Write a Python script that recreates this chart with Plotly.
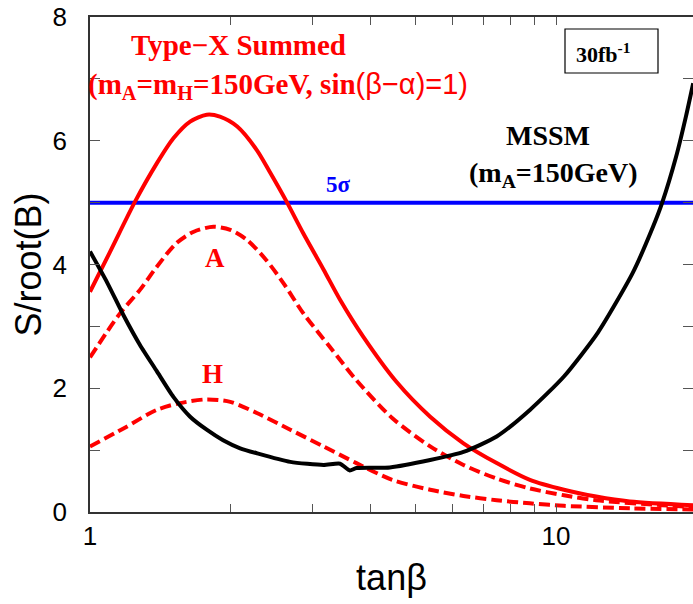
import plotly.graph_objects as go

# ---------------- data ----------------
tb_sum = [1.0, 1.10, 1.25, 1.39, 1.51, 1.64, 1.78, 1.90, 2.07, 2.28, 2.43, 2.64, 2.87, 3.17,
          3.44, 3.86, 4.55, 5.37, 6.33, 7.46, 8.79, 10.4, 12.2, 14.4, 19.7]
s_sum = [3.56, 4.18, 5.02, 5.63, 6.04, 6.31, 6.42, 6.39, 6.23, 5.85, 5.50, 5.02, 4.50, 3.92,
         3.43, 2.83, 2.10, 1.54, 1.11, 0.79, 0.52, 0.36, 0.25, 0.17, 0.11]

tb_A = [1.0, 1.16, 1.28, 1.39, 1.53, 1.67, 1.84, 2.0, 2.17, 2.39, 2.60, 2.87, 3.27, 3.73,
        4.45, 5.37, 6.33, 7.46, 8.79, 10.4, 12.2, 16.9, 19.7]
s_A = [2.50, 3.21, 3.59, 3.96, 4.34, 4.53, 4.61, 4.56, 4.40, 4.07, 3.70, 3.21, 2.67, 2.13,
       1.52, 1.06, 0.76, 0.54, 0.38, 0.27, 0.19, 0.11, 0.08]

tb_H = [1.0, 1.18, 1.39, 1.56, 1.78, 2.0, 2.28, 2.69, 3.17, 3.73, 4.45, 5.37, 6.33, 7.46,
        8.79, 10.4, 14.4, 19.7]
s_H = [1.06, 1.35, 1.65, 1.76, 1.82, 1.78, 1.60, 1.33, 1.06, 0.79, 0.52, 0.36, 0.26, 0.19,
       0.14, 0.10, 0.06, 0.04]

tb_mssm = [1.0, 1.09, 1.18, 1.28, 1.39, 1.51, 1.64, 1.78, 1.93, 2.10, 2.28, 2.69, 3.17, 3.44,
           3.61, 3.73, 4.40, 5.37, 6.33, 7.46, 8.79, 10.4, 12.3, 14.6, 16.15, 16.9, 18.1, 19.0, 19.7]
s_mssm = [4.21, 3.70, 3.18, 2.70, 2.28, 1.86, 1.54, 1.33, 1.16, 1.03, 0.95, 0.81, 0.76, 0.78,
          0.67, 0.71, 0.72, 0.84, 0.97, 1.22, 1.65, 2.19, 2.90, 3.86, 4.61, 5.00, 5.74, 6.39, 6.93]

five_sigma_x = [1.0, 20.0]
five_sigma_y = [5.0, 5.0]

x_major = [1, 10]
x_minor = [2, 3, 4, 5, 6, 7, 8, 9]
y_major = [0, 2, 4, 6, 8]

# ---------------- figure ----------------
W, H = 693, 604
ML, MR, MT, MB = 90, 0, 17, 92
PW, PH = W - ML - MR, H - MT - MB
DECADE_PX = 466.0            # pixels per decade on the x axis


def pp(xp, yp):
    """pixel position -> paper coords"""
    return (xp - ML) / PW, (H - MB - yp) / PH


SERIF = "Liberation Serif"
SANS = "Liberation Sans"
RED = "#ff0000"
DASH = "11px,5px"

fig = go.Figure()
fig.add_trace(go.Scatter(x=five_sigma_x, y=five_sigma_y, mode="lines",
                         line=dict(color="#0000ff", width=4), showlegend=False))
fig.add_trace(go.Scatter(x=tb_H, y=s_H, mode="lines",
                         line=dict(color=RED, width=4, dash=DASH, shape="spline", smoothing=0.8),
                         showlegend=False))
fig.add_trace(go.Scatter(x=tb_A, y=s_A, mode="lines",
                         line=dict(color=RED, width=4, dash=DASH, shape="spline", smoothing=0.8),
                         showlegend=False))
fig.add_trace(go.Scatter(x=tb_sum, y=s_sum, mode="lines",
                         line=dict(color=RED, width=4, shape="spline", smoothing=0.8),
                         showlegend=False))
fig.add_trace(go.Scatter(x=tb_mssm, y=s_mssm, mode="lines",
                         line=dict(color="black", width=4, shape="spline", smoothing=0.6),
                         showlegend=False))

annotations = []


def ann(text, xp, yp, size, color, family=SERIF, **kw):
    xa, ya = pp(xp, yp)
    annotations.append(dict(text=text, x=xa, y=ya, xref="paper", yref="paper",
                            showarrow=False, xanchor="center", yanchor="middle",
                            font=dict(family=family, size=size, color=color), **kw))


ann("<b>Type−X Summed</b>", 238, 45, 29, RED)
ann("<b>(m<sub>A</sub>=m<sub>H</sub>=150GeV, sin</b>"
    "<span style=\"font-family:'Liberation Sans'\">(β−α)=1)</span>", 278, 86, 29, RED)
ann("<b>5σ</b>", 338, 185, 23, "#0000ff")
ann("<b>A</b>", 215, 258, 27, RED)
ann("<b>H</b>", 212, 374, 27, RED)
ann("<b>MSSM</b>", 548, 135, 28, "black")
ann("<b>(m<sub>A</sub>=150GeV)</b>", 553, 174, 28, "black")
ann("<b>30fb<sup>-1</sup></b>", 603, 53, 22, "black")

x0, y0 = pp(565, 73)
x1, y1 = pp(658, 29)
shapes = [dict(type="rect", xref="paper", yref="paper", x0=x0, y0=y0, x1=x1, y1=y1,
               line=dict(color="black", width=1.2), fillcolor="rgba(0,0,0,0)")]

axis_common = dict(showline=True, linecolor="#333333", linewidth=1.5, mirror="ticks",
                   ticks="inside", tickcolor="#555555", tickwidth=1.2, showgrid=False,
                   zeroline=False, tickfont=dict(family=SANS, size=26, color="black"))

fig.update_layout(
    width=W, height=H,
    margin=dict(l=ML, r=MR, t=MT, b=MB, pad=0, autoexpand=False),
    paper_bgcolor="white", plot_bgcolor="white",
    annotations=annotations, shapes=shapes,
    xaxis=dict(type="log", range=[0, PW / DECADE_PX], tickmode="array", tickvals=x_major,
               ticktext=[str(v) for v in x_major], ticklen=8,
               minor=dict(tickmode="array", tickvals=x_minor, ticks="inside", ticklen=8,
                          tickcolor="#555555", tickwidth=1.2, showgrid=False),
               title=dict(text="tanβ", font=dict(family=SANS, size=36, color="black"), standoff=15),
               **axis_common),
    yaxis=dict(range=[0, 8], tickmode="array", tickvals=y_major,
               ticktext=[str(v) for v in y_major], ticklen=10, ticklabelstandoff=16,
               minor=dict(dtick=1, ticks="inside", ticklen=10, tickcolor="#555555",
                          tickwidth=1.2, showgrid=False),
               title=dict(text="S/root(B)", font=dict(family=SANS, size=36, color="black"), standoff=0),
               **axis_common),
)

fig.write_html("out.html", config={"displayModeBar": False},
               post_script="document.body.style.margin='0';")
